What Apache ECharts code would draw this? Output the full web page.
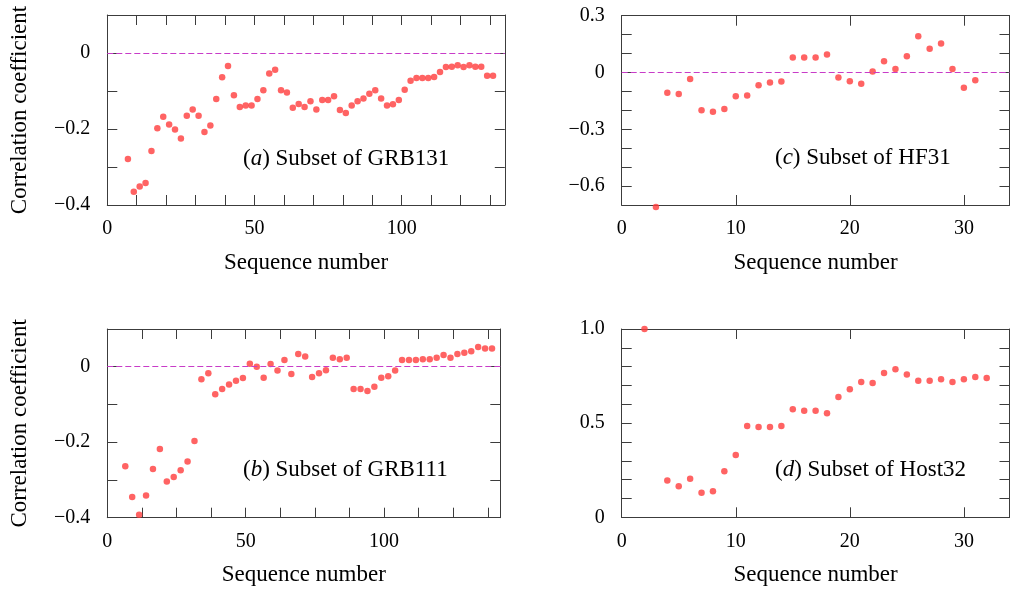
<!DOCTYPE html>
<html>
<head>
<meta charset="utf-8">
<script src="https://cdn.jsdelivr.net/npm/echarts@6/dist/echarts.min.js"></script>
<style>
  html, body { margin: 0; padding: 0; background: #fff; }
  #chart { width: 1013px; height: 589px; }
</style>
</head>
<body>
<div id="chart"></div>
<script>
// Correlation coefficient against sequence number for four data subsets.

const seqA = [7, 9, 11, 13, 15, 17, 19, 21, 23, 25, 27, 29, 31, 33, 35, 37, 39, 41, 43, 45, 47, 49, 51, 53, 55, 57, 59, 61, 63, 65, 67, 69, 71, 73, 75, 77, 79, 81, 83, 85, 87, 89, 91, 93, 95, 97, 99, 101, 103, 105, 107, 109, 111, 113, 115, 117, 119, 121, 123, 125, 127, 129, 131];
const corrA = [-0.279, -0.365, -0.351, -0.342, -0.258, -0.198, -0.168, -0.188, -0.201, -0.225, -0.165, -0.149, -0.165, -0.208, -0.191, -0.121, -0.064, -0.034, -0.111, -0.142, -0.138, -0.138, -0.121, -0.098, -0.054, -0.044, -0.098, -0.104, -0.144, -0.134, -0.142, -0.127, -0.149, -0.124, -0.124, -0.114, -0.150, -0.158, -0.138, -0.127, -0.120, -0.107, -0.098, -0.120, -0.138, -0.135, -0.124, -0.097, -0.073, -0.066, -0.066, -0.066, -0.063, -0.050, -0.037, -0.036, -0.032, -0.037, -0.032, -0.036, -0.036, -0.060, -0.060];

const seqB = [6.5, 9, 11.5, 14, 16.5, 19, 21.5, 24, 26.5, 29, 31.5, 34, 36.5, 39, 41.5, 44, 46.5, 49, 51.5, 54, 56.5, 59, 61.5, 64, 66.5, 69, 71.5, 74, 76.5, 79, 81.5, 84, 86.5, 89, 91.5, 94, 96.5, 99, 101.5, 104, 106.5, 109, 111.5, 114, 116.5, 119, 121.5, 124, 126.5, 129, 131.5, 134, 136.5, 139];
const corrB = [-0.264, -0.345, -0.392, -0.341, -0.271, -0.218, -0.304, -0.292, -0.274, -0.251, -0.197, -0.033, -0.017, -0.073, -0.059, -0.047, -0.037, -0.030, 0.008, 0.000, -0.029, 0.007, -0.010, 0.018, -0.019, 0.034, 0.027, -0.027, -0.017, -0.009, 0.024, 0.020, 0.024, -0.059, -0.059, -0.064, -0.053, -0.029, -0.025, -0.010, 0.018, 0.018, 0.018, 0.020, 0.020, 0.024, 0.031, 0.024, 0.034, 0.037, 0.041, 0.052, 0.048, 0.048];

const seqC = [3, 4, 5, 6, 7, 8, 9, 10, 11, 12, 13, 14, 15, 16, 17, 18, 19, 20, 21, 22, 23, 24, 25, 26, 27, 28, 29, 30, 31];
const corrC = [-0.711, -0.107, -0.114, -0.034, -0.200, -0.207, -0.193, -0.126, -0.121, -0.068, -0.053, -0.047, 0.079, 0.079, 0.079, 0.095, -0.026, -0.046, -0.060, 0.005, 0.059, 0.019, 0.086, 0.191, 0.126, 0.153, 0.019, -0.081, -0.041];

const seqD = [2, 4, 5, 6, 7, 8, 9, 10, 11, 12, 13, 14, 15, 16, 17, 18, 19, 20, 21, 22, 23, 24, 25, 26, 27, 28, 29, 30, 31, 32];
const corrD = [1.0, 0.196, 0.165, 0.205, 0.131, 0.138, 0.244, 0.331, 0.485, 0.480, 0.480, 0.485, 0.574, 0.566, 0.566, 0.552, 0.639, 0.680, 0.719, 0.713, 0.766, 0.786, 0.759, 0.725, 0.725, 0.733, 0.719, 0.733, 0.745, 0.740];

// Tick labels that carry text (other ticks stay unlabelled)
const xTicksAB = [0, 50, 100];
const xTicksCD = [0, 10, 20, 30];
const yTicksAB = [-0.4, -0.2, 0];
const yTextAB = ['\u22120.4', '\u22120.2', '0'];
const yTicksC = [-0.6, -0.3, 0, 0.3];
const yTextC = ['\u22120.6', '\u22120.3', '0', '0.3'];
const yTicksD = [0, 0.5, 1.0];
const yTextD = ['0', '0.5', '1.0'];

const panelNames = ['GRB131', 'GRB111', 'HF31', 'Host32'];
const panelLetters = ['a', 'b', 'c', 'd'];
const xTitle = 'Sequence number';
const yTitle = 'Correlation coefficient';

const FONT = "'Liberation Serif', 'Times New Roman', serif";
const FRAME = '#3c3c3c';

function labelFor(ticks, texts) {
  return function (v) {
    for (let i = 0; i < ticks.length; i++) {
      if (Math.abs(v - ticks[i]) < 1e-6) return texts ? texts[i] : String(ticks[i]);
    }
    return '';
  };
}

const panels = [
  { grid: { left: 107.3, top: 15, width: 397.5, height: 190 }, xMax: 135, xStep: 10, yMin: -0.4, yMax: 0.1,
    xT: xTicksAB, yT: yTicksAB, yS: yTextAB, yName: true, seq: seqA, corr: corrA, note: { left: 243, top: 147 } },
  { grid: { left: 107.3, top: 329, width: 393, height: 188.7 }, xMax: 142, xStep: 12.5, yMin: -0.4, yMax: 0.1,
    xT: xTicksAB, yT: yTicksAB, yS: yTextAB, yName: true, seq: seqB, corr: corrB, note: { left: 243, top: 458 } },
  { grid: { left: 621.7, top: 15.7, width: 387.8, height: 189.3 }, xMax: 34, xStep: 10, yMin: -0.7, yMax: 0.3,
    xT: xTicksCD, yT: yTicksC, yS: yTextC, yName: false, seq: seqC, corr: corrC, note: { left: 775, top: 146 } },
  { grid: { left: 621.7, top: 329, width: 387.8, height: 188.3 }, xMax: 34, xStep: 10, yMin: 0, yMax: 1.0,
    xT: xTicksCD, yT: yTicksD, yS: yTextD, yName: false, seq: seqD, corr: corrD, note: { left: 775, top: 458 } }
];

const grid = [], xAxis = [], yAxis = [], series = [], title = [];

panels.forEach((p, i) => {
  grid.push(Object.assign({ containLabel: false }, p.grid));
  const line = { show: true, onZero: false, lineStyle: { color: FRAME, width: 1 } };
  const tick = { show: true, inside: true, length: 10, lineStyle: { color: FRAME, width: 1 } };

  xAxis.push({
    gridIndex: i, type: 'value', position: 'bottom', min: 0, max: p.xMax, interval: p.xStep,
    axisLine: line, axisTick: tick, splitLine: { show: false },
    axisLabel: { margin: 14, color: '#000', fontSize: 20, fontFamily: FONT, formatter: labelFor(p.xT) },
    name: xTitle, nameLocation: 'middle', nameGap: 46,
    nameTextStyle: { color: '#000', fontSize: 23, fontFamily: FONT }
  });
  xAxis.push({
    gridIndex: i, type: 'value', position: 'top', min: 0, max: p.xMax, interval: p.xStep,
    axisLine: line, axisTick: tick, splitLine: { show: false }, axisLabel: { show: false }
  });

  const yLeft = {
    gridIndex: i, type: 'value', position: 'left', min: p.yMin, max: p.yMax, interval: 0.1,
    axisLine: line, axisTick: tick, splitLine: { show: false },
    axisLabel: { margin: 17, color: '#000', fontSize: 20, fontFamily: FONT, formatter: labelFor(p.yT, p.yS) }
  };
  if (p.yName) {
    Object.assign(yLeft, {
      name: yTitle, nameLocation: 'middle', nameRotate: 90, nameGap: 76,
      nameTextStyle: { color: '#000', fontSize: 23, fontFamily: FONT }
    });
  }
  yAxis.push(yLeft);
  yAxis.push({
    gridIndex: i, type: 'value', position: 'right', min: p.yMin, max: p.yMax, interval: 0.1,
    axisLine: line, axisTick: tick, splitLine: { show: false }, axisLabel: { show: false }
  });

  const s = {
    type: 'scatter',
    xAxisIndex: i * 2, yAxisIndex: i * 2,
    data: p.seq.map((x, k) => [x, p.corr[k]]),
    symbol: 'circle', symbolSize: 6.5,
    itemStyle: { color: '#ff3c3c' },
    clip: false, silent: true, z: 3
  };
  // zero reference line, only where zero lies inside the plotted range
  if (p.yMin < 0 && p.yMax > 0) {
    s.markLine = {
      silent: true, symbol: ['none', 'none'], animation: false,
      label: { show: false },
      lineStyle: { type: [6, 3], color: '#c83cc8', width: 1 },
      data: [{ yAxis: 0 }]
    };
  }
  series.push(s);

  title.push({
    text: '({it|' + panelLetters[i] + '}) Subset of ' + panelNames[i],
    left: p.note.left, top: p.note.top, padding: 0,
    textStyle: {
      color: '#000', fontSize: 23, fontWeight: 'normal', fontFamily: FONT,
      rich: { it: { fontStyle: 'italic', fontSize: 23, fontFamily: FONT, color: '#000' } }
    }
  });
});

const chart = echarts.init(document.getElementById('chart'), null, { renderer: 'canvas' });
chart.setOption({
  backgroundColor: '#ffffff',
  animation: false,
  title, grid, xAxis, yAxis, series
});
</script>
</body>
</html>
